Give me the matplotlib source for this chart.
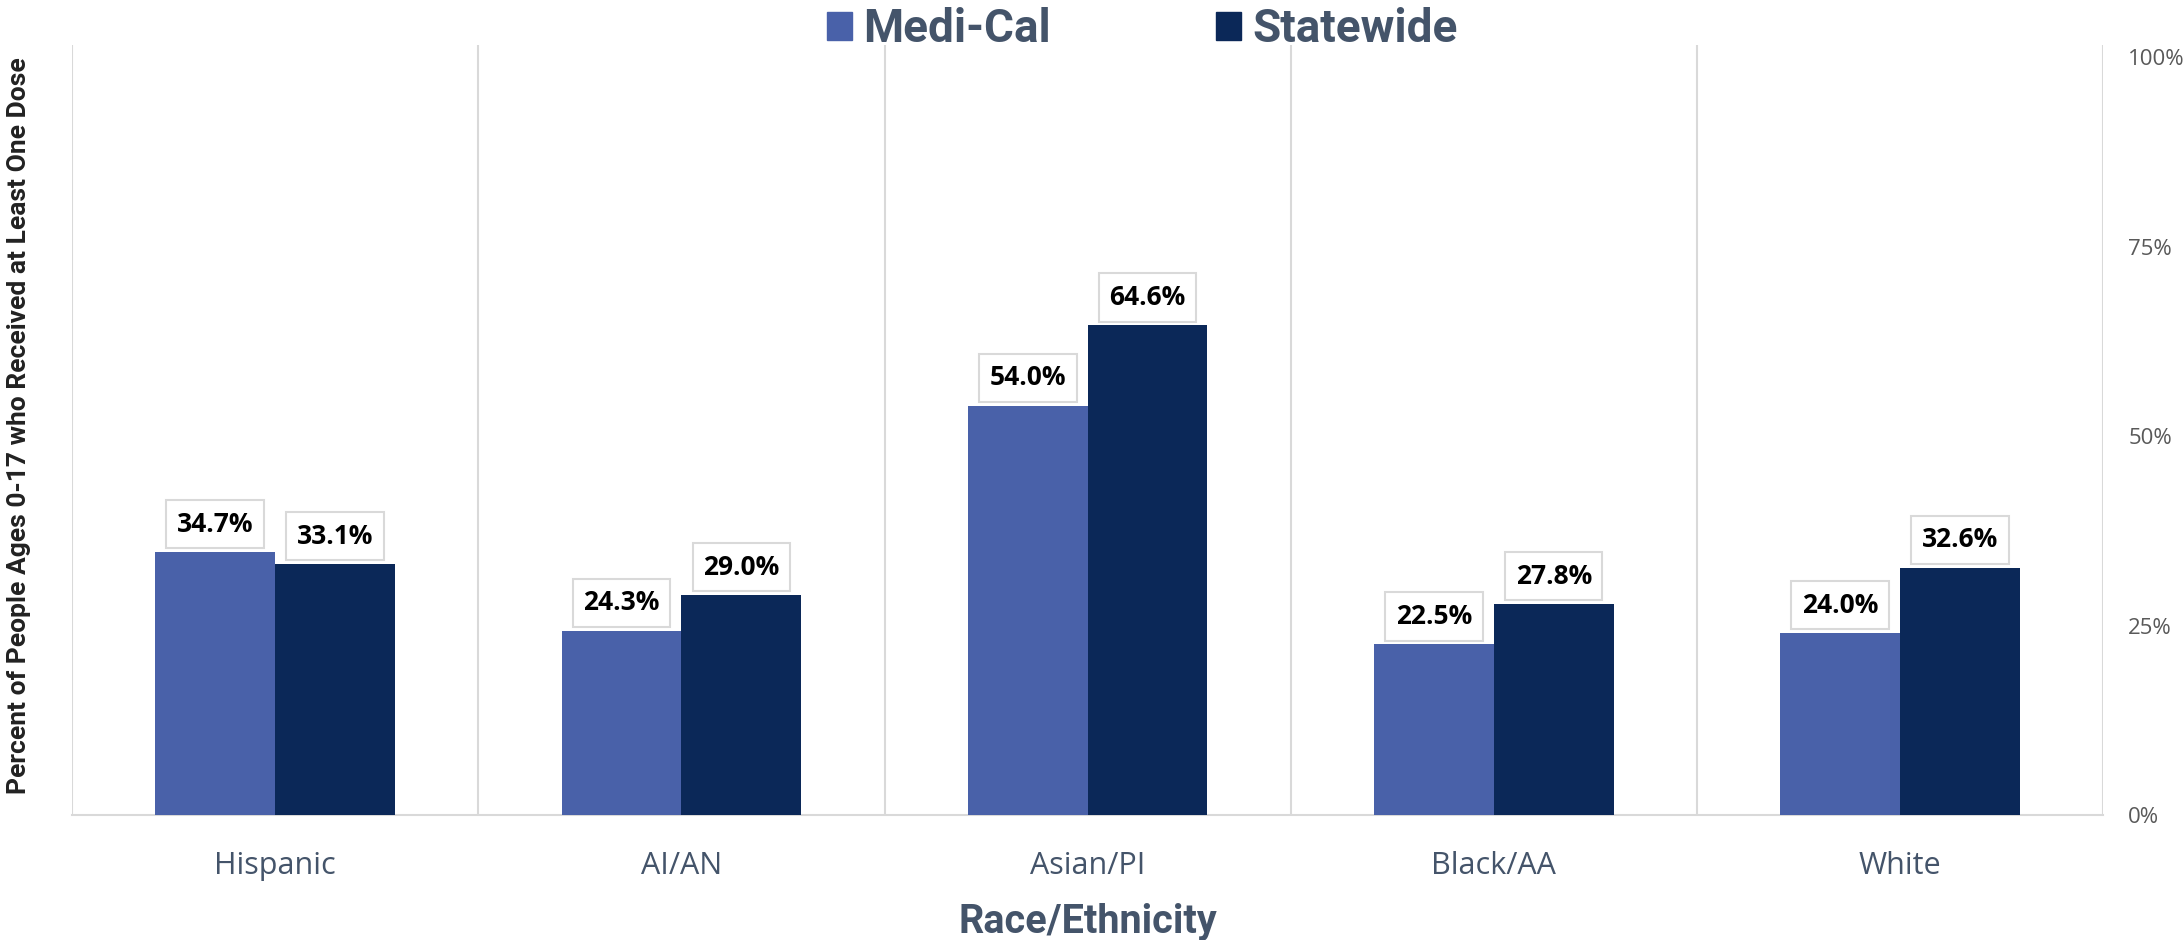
import numpy as np
import matplotlib
matplotlib.use("Agg")
import matplotlib.pyplot as plt
from matplotlib.patches import Patch
from matplotlib.ticker import FuncFormatter

categories = ["Hispanic", "AI/AN", "Asian/PI", "Black/AA", "White"]
medi_cal = [34.7, 24.3, 54.0, 22.5, 24.0]
statewide = [33.1, 29.0, 64.6, 27.8, 32.6]
series_names = ["Medi-Cal", "Statewide"]
y_ticks = [0, 25, 50, 75, 100]

col_medi = "#4961A9"
col_state = "#0B2858"
col_text = "#44546A"
col_grid = "#D9D9D9"
narrow = ["Roboto", "DejaVu Sans"]

fig = plt.figure(figsize=(21.84, 9.4), dpi=100)
ax = fig.add_axes([0.033, 0.133, 0.93, 0.819])

x = np.arange(len(categories))
w = 0.295
ax.bar(x - w / 2, medi_cal, width=w, color=col_medi, zorder=3)
ax.bar(x + w / 2, statewide, width=w, color=col_state, zorder=3)

for xs, vals in [(x - w / 2, medi_cal), (x + w / 2, statewide)]:
    for xi, v in zip(xs, vals):
        ax.annotate(f"{v:.1f}%", (xi, v), xytext=(0, 28), textcoords="offset pixels",
                    ha="center", va="center", fontsize=19, fontweight="bold",
                    family="Open Sans", color="black", zorder=4,
                    bbox=dict(boxstyle="square,pad=0.4", fc="white", ec=col_grid, lw=1.5))

ax.set_xlim(-0.5, len(categories) - 0.5)
ax.set_ylim(0, 101.6)
ax.set_xticks(x)
ax.set_xticklabels(categories, fontsize=22, color=col_text, family="Open Sans")
ax.set_xticks(np.arange(len(categories) + 1) - 0.5, minor=True)
ax.grid(True, which="minor", axis="x", color=col_grid, lw=1.5, zorder=0)
ax.tick_params(axis="x", which="both", length=0, pad=26)

ax.yaxis.tick_right()
ax.set_yticks(y_ticks)
ax.yaxis.set_major_formatter(FuncFormatter(lambda v, p: f"{v:.0f}%"))
ax.tick_params(axis="y", length=0, pad=18, labelsize=16, labelcolor="#595959")
for lab in ax.get_yticklabels():
    lab.set_family("Open Sans")

for s in ["top", "left", "right"]:
    ax.spines[s].set_visible(False)
ax.spines["bottom"].set_color(col_grid)
ax.spines["bottom"].set_linewidth(1.5)

ax.set_xlabel("Race/Ethnicity", fontsize=28.5, fontweight="bold", color=col_text,
              family=narrow, labelpad=16)
fig.text(0.0085, 0.547, "Percent of People Ages 0-17 who Received at Least One Dose",
         rotation=90, ha="center", va="center", fontsize=19, fontweight="bold",
         color="#222222", family=narrow)

handles = [Patch(color=col_medi), Patch(color=col_state)]
leg = fig.legend(handles, series_names, loc="upper center", bbox_to_anchor=(0.523, 1.036),
                 ncol=2, frameon=False, handlelength=0.55, handleheight=0.55,
                 handletextpad=0.25, columnspacing=3.6,
                 prop=dict(family=narrow, weight="bold", size=33))
for t in leg.get_texts():
    t.set_color(col_text)

fig.savefig("out.png", dpi=100)
